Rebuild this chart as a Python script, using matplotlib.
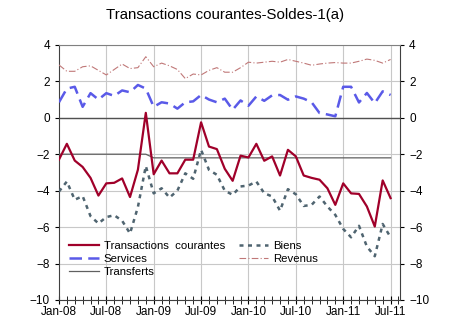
import numpy as np
import matplotlib
matplotlib.use("Agg")
import matplotlib.pyplot as plt
from matplotlib.ticker import MultipleLocator

plt.rcParams['font.family'] = ['Liberation Sans', 'DejaVu Sans']

# monthly data, Jan-08 .. Jul-11
tick_labels = ['Jan-08', 'Jul-08', 'Jan-09', 'Jul-09', 'Jan-10', 'Jul-10', 'Jan-11', 'Jul-11']

transactions = [-2.3, -1.43, -2.35, -2.7, -3.3, -4.27, -3.6, -3.57, -3.33, -4.35, -2.85, 0.27,
                -3.1, -2.35, -3.05, -3.05, -2.3, -2.3, -0.25, -1.58, -1.72, -2.8, -3.46, -2.08,
                -2.18, -1.43, -2.36, -2.12, -3.17, -1.76, -2.12, -3.17, -3.3, -3.4, -3.87, -4.78,
                -3.6, -4.15, -4.18, -4.87, -5.97, -3.44, -4.41]
biens = [-4.05, -3.5, -4.5, -4.3, -5.4, -5.8, -5.45, -5.35, -5.65, -6.35, -4.9, -2.65,
         -4.15, -3.87, -4.38, -4.0, -3.05, -3.35, -1.76, -2.86, -3.13, -4.0, -4.23, -3.77,
         -3.72, -3.5, -4.14, -4.32, -5.1, -3.92, -4.2, -4.84, -4.78, -4.32, -4.87, -5.33,
         -6.1, -6.56, -5.93, -7.07, -7.6, -5.83, -6.56]
services = [0.85, 1.6, 1.7, 0.6, 1.35, 1.0, 1.35, 1.2, 1.5, 1.4, 1.8, 1.6,
            0.6, 0.85, 0.78, 0.5, 0.85, 0.9, 1.25, 1.0, 0.85, 1.05, 0.44, 0.95,
            0.66, 1.17, 0.93, 1.23, 1.25, 0.99, 1.17, 1.05, 0.85, 0.26, 0.18, 0.08,
            1.7, 1.7, 0.84, 1.36, 0.8, 1.45, 1.25]
revenus = [2.9, 2.55, 2.55, 2.8, 2.85, 2.6, 2.35, 2.65, 2.95, 2.7, 2.75, 3.35,
           2.8, 3.0, 2.85, 2.65, 2.15, 2.4, 2.35, 2.6, 2.75, 2.5, 2.5, 2.75,
           3.05, 3.0, 3.05, 3.1, 3.05, 3.2, 3.1, 3.0, 2.88, 2.95, 3.0, 3.03,
           3.0, 3.0, 3.1, 3.22, 3.15, 3.0, 3.2]
transferts = [-2.0] * 12 + [-2.2] * 31

x = np.arange(len(transactions))

fig = plt.figure(figsize=(4.5, 3.3), dpi=100)
ax = fig.add_axes([0.131, 0.091, 0.758, 0.773])

# grid
for yv in range(-10, 5, 2):
    ax.axhline(yv, color='#c8c8c8', lw=0.8, zorder=0)
ax.axhline(0, color='#505050', lw=1.0, zorder=1)
for xv in range(6, 43, 6):
    ax.axvline(xv, color='#c8c8c8', lw=0.8, zorder=0)

l_tc, = ax.plot(x, transactions, color='#a0002a', lw=1.6, zorder=5)
l_b, = ax.plot(x, biens, color='#4f6470', lw=1.8, ls=(0, (1.6, 1.8)), zorder=4)
l_s, = ax.plot(x, services, color='#5a5ae8', lw=1.8, ls=(0, (5, 2.5)), zorder=4)
l_r, = ax.plot(x, revenus, color='#c07878', lw=0.8, ls=(0, (6, 2, 1, 2)), zorder=3)
l_t, = ax.plot(x, transferts, color='#606060', lw=0.9, zorder=3)

ax.set_xlim(0, 43.2)
ax.set_ylim(-10, 4)
ax.set_yticks(range(-10, 5, 2))
ax.set_xticks(range(0, 43, 6))
ax.set_xticklabels(tick_labels)
ax.xaxis.set_minor_locator(MultipleLocator(1))
ax.tick_params(axis='y', right=True, labelright=True, labelsize=8.5, direction='out', length=3)
ax.tick_params(axis='x', which='both', direction='inout', length=6, labelsize=8.5, pad=1)

for s in ['left', 'right', 'bottom']:
    ax.spines[s].set_color('#404040')
ax.spines['top'].set_color('#808080')
ax.spines['top'].set_linewidth(0.8)

ax.legend([l_tc, l_s, l_t, l_b, l_r],
          ['Transactions  courantes', 'Services', 'Transferts', 'Biens', 'Revenus'],
          ncol=2, loc='lower left', bbox_to_anchor=(0.03, 0.09), frameon=False,
          fontsize=8.2, handlelength=2.6, labelspacing=0.25, columnspacing=1.2,
          handletextpad=0.45, borderpad=0.0, borderaxespad=0.0)

fig.suptitle('Transactions courantes-Soldes-1(a)', fontsize=10.8, y=0.975)

fig.savefig('out.png', dpi=100)
